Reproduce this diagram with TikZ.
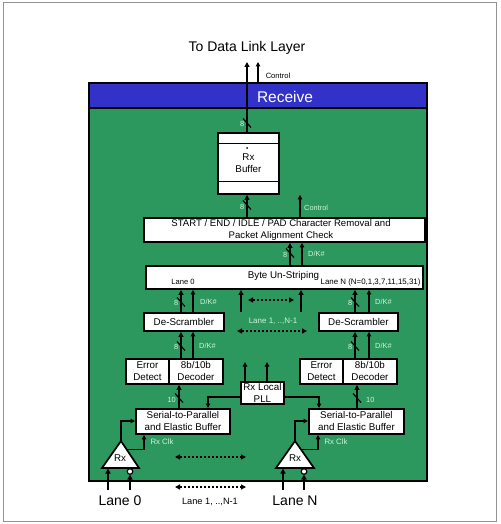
\documentclass[tikz,border=0pt]{standalone}
\usepackage{fontspec}
\setmainfont{Liberation Sans}
\usetikzlibrary{arrows.meta,calc}
\definecolor{pcbgreen}{RGB}{44,152,94}
\definecolor{bandblue}{RGB}{50,50,200}
\definecolor{lbl}{RGB}{205,245,215}
\begin{document}
\begin{tikzpicture}[x=1pt,y=-1pt,
  blk/.style={draw=black,line width=1.9pt,fill=white,inner sep=0pt,align=center,anchor=north west,
              font=\fontsize{9.8}{12}\selectfont},
  bus/.style={line width=1.9pt,-{Triangle[length=5pt,width=5pt]}},
  ctl/.style={line width=1.5pt,-{Triangle[length=4.5pt,width=4.5pt]}},
  dbl/.style={line width=1.6pt,dash pattern=on 2pt off 2pt,{Triangle[length=5pt,width=5pt]}-{Triangle[length=5pt,width=5pt]}},
  lab/.style={text=lbl,font=\fontsize{7.4}{8}\selectfont,inner sep=0pt},
  blab/.style={text=black,font=\fontsize{7.6}{8}\selectfont,inner sep=0pt},
  txt/.style={inner sep=0pt,align=center,font=\fontsize{9.8}{12}\selectfont},
  slsh/.style={line width=1.2pt},
  tri/.style={draw=black,fill=white,line width=1.7pt,line join=miter}
]
\useasboundingbox (0,0) rectangle (500,524);
\fill[white] (0,0) rectangle (500,524);
\draw[gray!85,line width=1pt] (3,3) rectangle (496,521);

% title
\node[inner sep=0pt,font=\fontsize{14}{16}\selectfont] (title) at (247,48) {To Data Link Layer};

% green board and blue band
\draw[fill=pcbgreen,line width=1.9pt] (89,108) rectangle (427,481);
\draw[fill=bandblue,line width=1.9pt] (89,83) rectangle (427,108);
\node[inner sep=0pt,text=white,font=\fontsize{15.5}{17}\selectfont] (recv) at (285,97) {Receive};

% boxes
\node[blk,minimum width=61pt,minimum height=61pt] (buf) at (217,132) {Rx\\Buffer};
\draw[line width=1.5pt] (buf.west |- 0,143.5) -- (buf.east |- 0,143.5);
\draw[line width=1.5pt] (buf.west |- 0,181.5) -- (buf.east |- 0,181.5);
\fill (247,148) circle[radius=1pt];

\node[blk,minimum width=281pt,minimum height=24pt] (start) at (143,217) {};
\node[txt,font=\fontsize{9.6}{12}\selectfont] (starttxt) at (281,230.5) {START / END / IDLE / PAD Character Removal and\\Packet Alignment Check};

\node[blk,minimum width=277pt,minimum height=23pt] (bus) at (145,265) {};
\node[txt] (bustxt) at (283.5,276) {Byte Un-Striping};
\node[blab] (lane0in) at (183,282) {Lane 0};
\node[blab,anchor=west,font=\fontsize{7.9}{8}\selectfont] (laneNin) at (320.5,282) {Lane N (N=0,1,3,7,11,15,31)};

\node[blk,minimum width=80pt,minimum height=18pt] (ds0) at (143,312) {De-Scrambler};
\node[blk,minimum width=79pt,minimum height=18pt] (dsN) at (318,312) {De-Scrambler};

\node[blk,minimum width=43pt,minimum height=25pt] (ed0) at (125,358) {Error\\Detect};
\node[blk,minimum width=54pt,minimum height=25pt] (dec0) at (168,358) {8b/10b\\Decoder};
\node[blk,minimum width=43pt,minimum height=25pt] (edN) at (299,358) {Error\\Detect};
\node[blk,minimum width=54pt,minimum height=25pt] (decN) at (342,358) {8b/10b\\Decoder};

\node[blk,minimum width=43pt,minimum height=22pt] (pll) at (240,381) {Rx Local\\PLL};

\node[blk,minimum width=94pt,minimum height=25pt] (sp0) at (135,408) {Serial-to-Parallel\\and Elastic Buffer};
\node[blk,minimum width=95pt,minimum height=25pt] (spN) at (308,408) {Serial-to-Parallel\\and Elastic Buffer};

% receivers
\draw[tri] (121,441) -- (139,468) -- (102,468) -- cycle;
\node[txt] (rx0) at (120,458) {Rx};
\draw[tri] (295,441) -- (314,468) -- (276,468) -- cycle;
\node[txt] (rxN) at (295,458) {Rx};
\draw[fill=white,line width=1.2pt] (130,471.5) circle[radius=2.8pt];
\draw[fill=white,line width=1.2pt] (304,471.5) circle[radius=2.8pt];

% output to data link layer
\coordinate (top1) at (247,62);
\coordinate (top2) at (258,62);
\coordinate (cb) at (258,83);
\draw[bus] (buf.north -| top1) -- (top1);
\draw[ctl] (cb) -- (top2);
\node[blab] (ctlA) at (278,76) {Control};
\draw[slsh] (243,118.5) -- (251,127.5);
\node[lab,anchor=east] (b8a) at (244.5,124) {8};

% start -> buffer
\draw[bus] (start.north -| 247,0) -- (buf.south -| 247,0);
\draw[slsh] (243,200.5) -- (251,209.5);
\node[lab,anchor=east] (b8b) at (244.5,207) {8};
\draw[ctl] (start.north -| 300,0) -- (buf.south -| 300,0);
\node[lab,anchor=west] (ctlB) at (304,208) {Control};

% unstriping -> start
\draw[bus] (bus.north -| 290,0) -- (start.south -| 290,0);
\draw[ctl] (bus.north -| 302,0) -- (start.south -| 302,0);
\draw[slsh] (286,248.5) -- (294,257.5);
\node[lab,anchor=east] (b8c) at (287.5,255) {8};
\node[lab,anchor=west] (dkc) at (308,254) {D/K\#};

% descramblers -> unstriping
\draw[bus] (ds0.north -| 181,0) -- (bus.south -| 181,0);
\draw[ctl] (ds0.north -| 193,0) -- (bus.south -| 193,0);
\draw[slsh] (177,297.5) -- (185,306.5);
\node[lab,anchor=east] (b8d) at (178.5,303) {8};
\node[lab,anchor=west] (dkd) at (200,302) {D/K\#};

\draw[bus] (dsN.north -| 355,0) -- (bus.south -| 355,0);
\draw[ctl] (dsN.north -| 369,0) -- (bus.south -| 369,0);
\draw[slsh] (351,297.5) -- (359,306.5);
\node[lab,anchor=east] (b8e) at (352.5,303) {8};
\node[lab,anchor=west] (dke) at (375,302) {D/K\#};

\coordinate (m1) at (241,312);
\coordinate (m2) at (301,312);
\draw[bus] (m1) -- (bus.south -| m1);
\draw[bus] (m2) -- (bus.south -| m2);
\coordinate (da1) at (248,300);
\coordinate (da2) at (294,300);
\draw[dbl] (da1) -- (da2);
\node[lab,font=\fontsize{8}{9}\selectfont] (midlane) at (273,321) {Lane 1, ..,N-1};
\coordinate (db1) at (237,331);
\coordinate (db2) at (307,331);
\draw[dbl] (db1) -- (db2);

% decoders -> descramblers
\draw[bus] (dec0.north -| 181,0) -- (ds0.south -| 181,0);
\draw[ctl] (dec0.north -| 193,0) -- (ds0.south -| 193,0);
\draw[slsh] (177,341.5) -- (185,350.5);
\node[lab,anchor=east] (b8f) at (178.5,347) {8};
\node[lab,anchor=west] (dkf) at (199,346) {D/K\#};

\draw[bus] (decN.north -| 355,0) -- (dsN.south -| 355,0);
\draw[ctl] (decN.north -| 369,0) -- (dsN.south -| 369,0);
\draw[slsh] (351,341.5) -- (359,350.5);
\node[lab,anchor=east] (b8g) at (352.5,347) {8};
\node[lab,anchor=west] (dkg) at (375,346) {D/K\#};

% serial-to-parallel -> decoders
\draw[bus] (sp0.north -| 179,0) -- (dec0.south -| 179,0);
\draw[slsh] (175,393.5) -- (183,402.5);
\node[lab,anchor=east] (t10a) at (176,400) {10};
\draw[bus] (spN.north -| 357,0) -- (decN.south -| 357,0);
\draw[slsh] (353,393.5) -- (361,402.5);
\node[lab,anchor=west] (t10b) at (366,400) {10};

% PLL
\coordinate (p1) at (245,362);
\coordinate (p2) at (267,362);
\draw[ctl] (pll.north -| p1) -- (p1);
\draw[ctl] (pll.north -| p2) -- (p2);
\draw[ctl] (pll.west |- 0,397) -| (sp0.north -| 208,0);
\draw[ctl] (pll.east |- 0,397) -| (spN.north -| 319,0);

% receivers -> serial-to-parallel
\coordinate (a0) at (121,441);
\coordinate (r0) at (126.5,449.5);
\draw[ctl] (a0) |- (sp0.west |- 0,421);
\draw[ctl] (r0) -| (sp0.south -| 144,0);
\node[lab,font=\fontsize{7.8}{9}\selectfont] (clk0) at (162,442) {Rx Clk};

\coordinate (aN) at (295,441);
\coordinate (rN) at (301,449.5);
\draw[ctl] (aN) |- (spN.west |- 0,421);
\draw[ctl] (rN) -| (spN.south -| 318,0);
\node[lab,font=\fontsize{7.8}{9}\selectfont] (clkN) at (336,442) {Rx Clk};

\coordinate (dc1) at (175,457);
\coordinate (dc2) at (246,457);
\draw[dbl] (dc1) -- (dc2);

% lane inputs
\coordinate (i0a) at (108,490);
\coordinate (i0b) at (130,490);
\coordinate (iNa) at (283,490);
\coordinate (iNb) at (304,490);
\draw[bus] (i0a) -- (108,468.5);
\draw[bus] (i0b) -- (130,474.5);
\draw[bus] (iNa) -- (283,468.5);
\draw[bus] (iNb) -- (304,474.5);
\node[inner sep=0pt,font=\fontsize{14}{16}\selectfont] (lane0) at (120,501) {Lane 0};
\node[inner sep=0pt,font=\fontsize{14}{16}\selectfont] (laneN) at (295,501) {Lane N};
\coordinate (dd1) at (175,487);
\coordinate (dd2) at (246,487);
\draw[dbl] (dd1) -- (dd2);
\node[inner sep=0pt,font=\fontsize{9.2}{10}\selectfont] (botlane) at (210,502) {Lane 1, ..,N-1};
\end{tikzpicture}
\end{document}
